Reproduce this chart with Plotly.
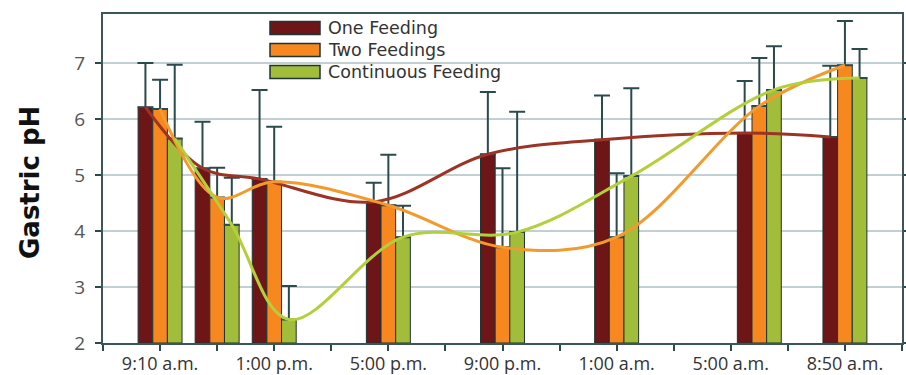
import plotly.graph_objects as go

# ---- data ----
time_index = [1, 2, 3, 5, 7, 9, 11.5, 13]          # sampling times (2-hour tick units from 7:10 a.m.)
series_names = ["One Feeding", "Two Feedings", "Continuous Feeding"]
one_feeding = [6.21, 5.12, 4.93, 4.52, 5.37, 5.63, 5.75, 5.68]
two_feedings = [6.18, 4.60, 4.88, 4.46, 3.71, 3.89, 6.23, 6.96]
continuous = [5.65, 4.11, 2.42, 3.89, 3.98, 4.98, 6.52, 6.73]
one_err = [0.79, 0.83, 1.59, 0.34, 1.11, 0.79, 0.93, 1.27]
two_err = [0.52, 0.53, 0.98, 0.90, 1.41, 1.14, 0.86, 0.79]
cont_err = [1.32, 0.84, 0.60, 0.56, 2.15, 1.57, 0.78, 0.52]
tick_positions = list(range(0, 15))
tick_labels = ["", "9:10 a.m.", "", "1:00 p.m.", "", "5:00 p.m.", "", "9:00 p.m.",
               "", "1:00 a.m.", "", "5:00 a.m.", "", "8:50 a.m.", ""]
y_title = "Gastric pH"

bar_colors = ["#6d1517", "#f7871f", "#a2bd3a"]
line_colors = ["#9b3424", "#f39a2e", "#b3cf3c"]
outline = "#1f3434"
err_color = "#2b4a4e"
FONT = "Open Sans"

values = [one_feeding, two_feedings, continuous]
errors = [one_err, two_err, cont_err]

BARGAP = 0.23
bar_w = (1 - BARGAP) / 3
X_RANGE = [0, 14]
Y_RANGE = [2, 7.875]

L, R, T, B = 103, 4, 14, 32
W, H = 906, 375
PW, PH = W - L - R, H - T - B


def px_x(p):
    return (p - L) / PW


def px_y(p):
    return (H - B - p) / PH


def data_x(p):
    return X_RANGE[0] + px_x(p) * (X_RANGE[1] - X_RANGE[0])


def data_y(p):
    return Y_RANGE[0] + px_y(p) * (Y_RANGE[1] - Y_RANGE[0])


fig = go.Figure()
for i in range(3):
    fig.add_trace(go.Bar(
        x=time_index, y=[v - 2 for v in values[i]], base=2, name=series_names[i],
        marker=dict(color=bar_colors[i], line=dict(color=outline, width=1)),
        error_y=dict(type="data", symmetric=False, array=errors[i],
                     arrayminus=[0] * len(errors[i]), color=err_color,
                     thickness=2, width=8),
        showlegend=False,
    ))
for i in range(3):
    off = (i - 1) * bar_w
    fig.add_trace(go.Scatter(
        x=[t + off for t in time_index], y=values[i], mode="lines",
        line=dict(color=line_colors[i], width=3, shape="spline", smoothing=1.0),
        showlegend=False, hoverinfo="skip",
    ))

# legend background box (covers the gridline, stays under the data)
fig.add_shape(type="rect", xref="x", yref="y",
              x0=data_x(212), x1=data_x(610), y0=data_y(88), y1=data_y(16),
              fillcolor="white", line=dict(width=0), layer="below")

# manual legend
rows_y = [28, 50, 72]
for i, name in enumerate(series_names):
    yc = rows_y[i]
    fig.add_shape(type="rect", xref="paper", yref="paper",
                  x0=px_x(270), x1=px_x(320), y0=px_y(yc + 6.5), y1=px_y(yc - 6.5),
                  fillcolor=bar_colors[i], line=dict(color=outline, width=1.5), layer="above")
    fig.add_annotation(text=name, xref="paper", yref="paper",
                       x=px_x(326), y=px_y(yc),
                       xanchor="left", yanchor="middle", showarrow=False,
                       font=dict(family="DejaVu Sans", size=17.5, color="#333333"))

fig.add_annotation(text="<b>" + y_title + "</b>", xref="paper", yref="paper",
                   x=px_x(30), y=px_y(183), textangle=-90,
                   xanchor="center", yanchor="middle", showarrow=False,
                   font=dict(family="DejaVu Sans", size=26, color="#111111"))

fig.update_layout(
    width=W, height=H,
    margin=dict(l=L, r=R, t=T, b=B, autoexpand=False),
    paper_bgcolor="white", plot_bgcolor="white",
    barmode="group", bargap=BARGAP, bargroupgap=0,
    font=dict(family=FONT, color="#444444"),
)
fig.update_xaxes(
    range=X_RANGE, tickmode="array", tickvals=tick_positions, ticktext=tick_labels,
    ticks="outside", ticklen=6, tickwidth=2, tickcolor=err_color,
    showline=True, linecolor="#3b5656", linewidth=2, mirror=True,
    showgrid=False, tickfont=dict(family=FONT, size=18, color="#333333"),
    zeroline=False, automargin=False, ticklabelstandoff=-3,
)
fig.update_yaxes(
    range=Y_RANGE, tickvals=[2, 3, 4, 5, 6, 7],
    ticks="outside", ticklen=6, tickwidth=2, tickcolor=err_color,
    showline=True, linecolor="#3b5656", linewidth=2, mirror="ticks",
    showgrid=True, gridcolor="#c3d0d3", gridwidth=1.5,
    tickfont=dict(family=FONT, size=19, color="#555555"),
    zeroline=False, automargin=False, ticklabelstandoff=6,
)

fig.write_html("out.html", config={"displayModeBar": False},
               post_script="document.body.style.margin='0';")
